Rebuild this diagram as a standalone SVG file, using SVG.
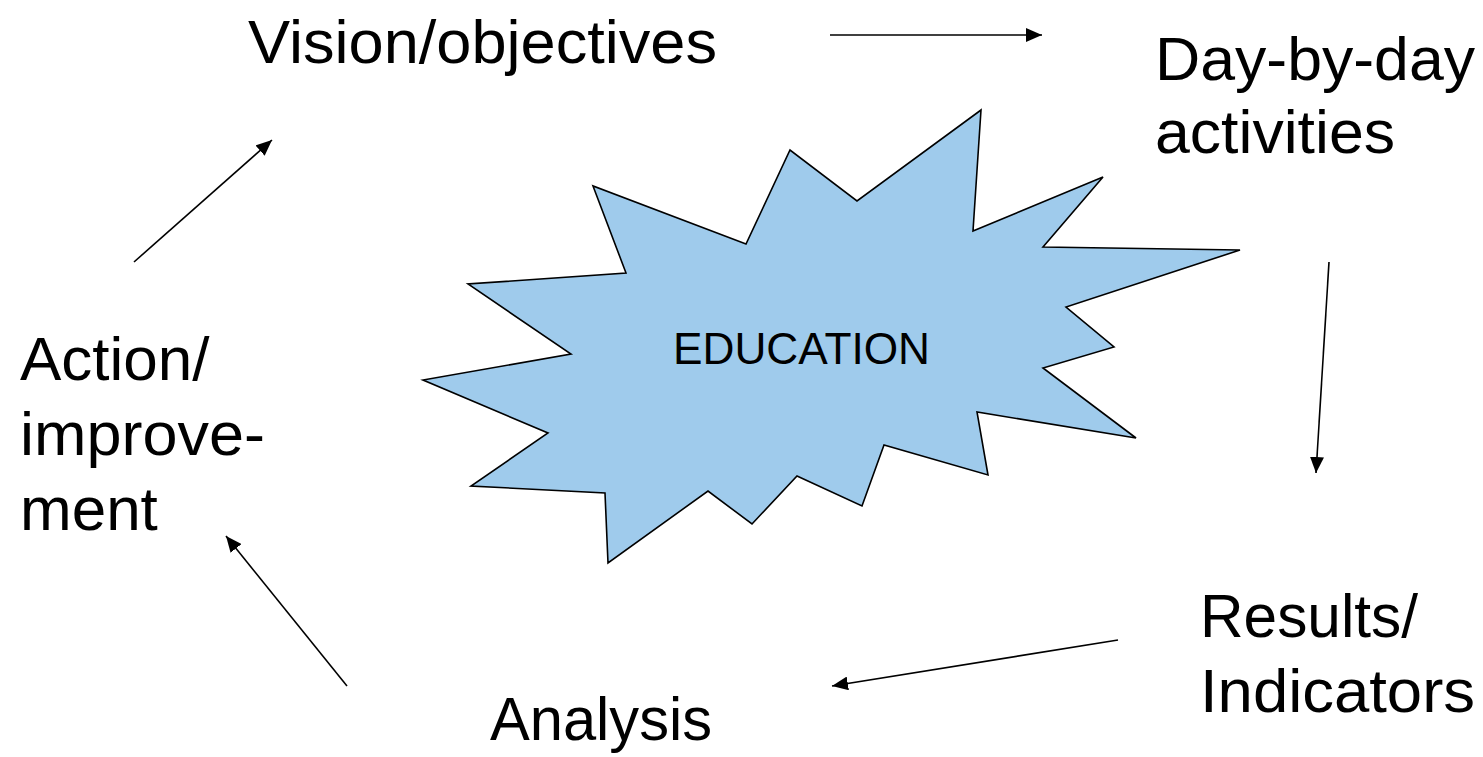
<svg xmlns="http://www.w3.org/2000/svg" width="1483" height="757" viewBox="0 0 1483 757">
<style>
.lbl{font-family:"Liberation Sans",Arial,sans-serif;font-size:62px;fill:#000}
.conn line{stroke:#000;stroke-width:1.6;fill:none}
</style>
<defs>
<marker id="ah" markerUnits="userSpaceOnUse" markerWidth="18" markerHeight="14" refX="16" refY="7" orient="auto">
<path d="M0,0 L16,7 L0,14 z" fill="#000"/>
</marker>
</defs>
<rect width="1483" height="757" fill="#fff"/>
<g id="education">
<polygon points="593,186 626,273 468,284 571,354 423,380 548,433 471,486 605,493 608,563 708,491 752,524 797,476 862,506 884,445 988,475 977,412 1136,438 1043,368 1114,347 1066,307 1240,250 1043,247 1103,177 973,231 981,110 857,201 790,150 746,244" fill="#9fcbec" stroke="#000" stroke-width="1.6" stroke-linejoin="miter"/>
<text x="673" y="364" font-family="'Liberation Sans',Arial,sans-serif" font-size="45" textLength="257" lengthAdjust="spacingAndGlyphs">EDUCATION</text>
</g>
<g id="vision"><text class="lbl" x="248" y="63" textLength="469" lengthAdjust="spacingAndGlyphs">Vision/objectives</text></g>
<g id="daybyday"><text class="lbl" x="1155" y="80" textLength="320" lengthAdjust="spacingAndGlyphs">Day-by-day</text><text class="lbl" x="1155" y="153" textLength="240" lengthAdjust="spacingAndGlyphs">activities</text></g>
<g id="results"><text class="lbl" x="1200" y="637" textLength="218" lengthAdjust="spacingAndGlyphs">Results/</text><text class="lbl" x="1200" y="712" textLength="275" lengthAdjust="spacingAndGlyphs">Indicators</text></g>
<g id="analysis"><text class="lbl" x="490" y="740" textLength="222" lengthAdjust="spacingAndGlyphs">Analysis</text></g>
<g id="action"><text class="lbl" x="20" y="380">Action/</text><text class="lbl" x="20" y="455" textLength="245" lengthAdjust="spacingAndGlyphs">improve-</text><text class="lbl" x="20" y="530">ment</text></g>
<g class="conn" id="connectors">
<line x1="830" y1="35" x2="1042" y2="35" marker-end="url(#ah)"/>
<line x1="1329" y1="262" x2="1316" y2="473" marker-end="url(#ah)"/>
<line x1="1118" y1="640" x2="832" y2="686" marker-end="url(#ah)"/>
<line x1="347" y1="686" x2="226" y2="536" marker-end="url(#ah)"/>
<line x1="134" y1="262" x2="272" y2="140" marker-end="url(#ah)"/>
</g>
</svg>
